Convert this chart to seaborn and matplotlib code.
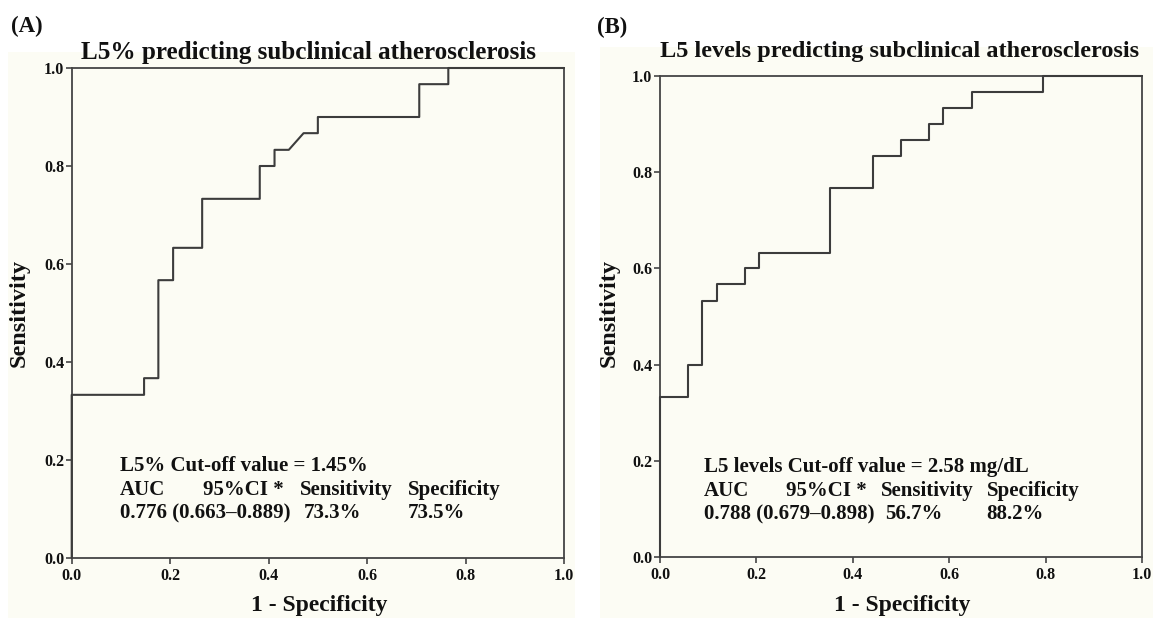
import matplotlib
matplotlib.use("Agg")
import matplotlib.pyplot as plt
import seaborn as sns
import pandas as pd
from matplotlib.patches import Rectangle

# ---------------- data ----------------
# Panel A: L5% ROC coordinates (1 - specificity, sensitivity)
fpr_a = [0.0, 0.0, 0.147, 0.147, 0.176, 0.176, 0.206, 0.206, 0.265, 0.265,
         0.382, 0.382, 0.412, 0.412, 0.441, 0.471, 0.500, 0.500, 0.706, 0.706,
         0.765, 0.765, 1.0]
tpr_a = [0.0, 0.333, 0.333, 0.367, 0.367, 0.567, 0.567, 0.633, 0.633, 0.733,
         0.733, 0.800, 0.800, 0.833, 0.833, 0.867, 0.867, 0.900, 0.900, 0.967,
         0.967, 1.0, 1.0]

# Panel B: L5 levels ROC coordinates
fpr_b = [0.0, 0.0, 0.059, 0.059, 0.088, 0.088, 0.118, 0.118, 0.176, 0.176,
         0.206, 0.206, 0.353, 0.353, 0.441, 0.441, 0.500, 0.500, 0.559, 0.559,
         0.588, 0.588, 0.647, 0.647, 0.794, 0.794, 1.0]
tpr_b = [0.0, 0.333, 0.333, 0.400, 0.400, 0.533, 0.533, 0.567, 0.567, 0.600,
         0.600, 0.633, 0.633, 0.767, 0.767, 0.833, 0.833, 0.867, 0.867, 0.900,
         0.900, 0.933, 0.933, 0.967, 0.967, 1.0, 1.0]

tick_values = [0.0, 0.2, 0.4, 0.6, 0.8, 1.0]
tick_labels = ["0.0", "0.2", "0.4", "0.6", "0.8", "1.0"]

titles = ["L5% predicting subclinical atherosclerosis",
          "L5 levels predicting subclinical atherosclerosis"]
panel_tags = ["(A)", "(B)"]
cutoff_lines = ["L5% Cut-off value = 1.45%",
                "L5 levels Cut-off value = 2.58 mg/dL"]
header_cols = ["AUC", "95%CI *", "Sensitivity", "Specificity"]
auc_text = ["0.776 (0.663\u20130.889)", "0.788 (0.679\u20130.898)"]
sens_text = ["73.3%", "56.7%"]
spec_text = ["73.5%", "88.2%"]

# ---------------- style ----------------
sns.set_theme(style="white")
plt.rcParams["font.family"] = ["Liberation Serif", "DejaVu Serif"]
plt.rcParams["font.weight"] = "bold"

W, H = 1153, 618
CREAM = "#FCFCF4"
LINE = "#3c3c3c"
SPINE = "#454545"
TXT = "#111111"

fig = plt.figure(figsize=(W / 100, H / 100), dpi=100)
fig.patch.set_facecolor("white")


def fx(px):
    return px / W


def fy(py):
    return 1 - py / H


# cream backgrounds of the two panel images
for (x0, y0, x1) in [(8, 52, 575), (600, 47, 1153)]:
    fig.patches.append(Rectangle((fx(x0), 0), fx(x1) - fx(x0), fy(y0),
                                 transform=fig.transFigure, facecolor=CREAM,
                                 edgecolor="none", zorder=-10))

# axes boxes (pixel extents)
boxes = [(71.7, 68, 564, 558), (660, 76, 1142, 557)]
curves = [(fpr_a, tpr_a), (fpr_b, tpr_b)]

# text layout (pixels)
title_pos = [(308.5, 52, "center", 18.1), (660, 52, "left", 17.5)]
tag_pos = [(11, 26), (597.5, 27)]
xlabel_pos = [319, 902]
ylabel_pos = [19, 609]
ann_x = [
    dict(c0=120, c1=202.6, c2=300, c3=408, v2=304, v3=408),
    dict(c0=704, c1=785.7, c2=881.4, c3=987.4, v2=885, v3=986.6),
]
ann_y = [(466, 490, 513), (467, 491, 514)]

for i in range(2):
    x0, y0, x1, y1 = boxes[i]
    ax = fig.add_axes([fx(x0), fy(y1), fx(x1) - fx(x0), fy(y0) - fy(y1)])
    ax.set_facecolor(CREAM)
    df = pd.DataFrame({"fpr": curves[i][0], "tpr": curves[i][1]})
    sns.lineplot(data=df, x="fpr", y="tpr", ax=ax, sort=False, estimator=None,
                 color=LINE, linewidth=1.5, clip_on=False, zorder=3)
    ax.set_xlim(0, 1)
    ax.set_ylim(0, 1)
    ax.set_xticks(tick_values)
    ax.set_yticks(tick_values)
    ax.set_xticklabels(tick_labels)
    ax.set_yticklabels(tick_labels)
    ax.set_xlabel("")
    ax.set_ylabel("")
    ax.tick_params(axis="both", which="major", bottom=True, left=True,
                   direction="out", length=4.5, width=1.2, color=SPINE,
                   labelsize=11.5, labelcolor=TXT)
    ax.tick_params(axis="x", pad=3)
    ax.tick_params(axis="y", pad=1)
    for lab in ax.get_xticklabels() + ax.get_yticklabels():
        lab.set_fontweight("bold")
    for sp in ax.spines.values():
        sp.set_visible(True)
        sp.set_color(SPINE)
        sp.set_linewidth(1.3)
    ax.grid(False)

    # titles, tags, axis labels
    tx, ty, ha, tfs = title_pos[i]
    fig.text(fx(tx), fy(ty), titles[i], ha=ha, va="center", fontsize=tfs,
             fontweight="bold", color=TXT)
    fig.text(fx(tag_pos[i][0]), fy(tag_pos[i][1]), panel_tags[i], ha="left",
             va="center", fontsize=16.5, fontweight="bold", color=TXT)
    fig.text(fx(xlabel_pos[i]), fy(605), "1 - Specificity", ha="center",
             va="center", fontsize=17, fontweight="bold", color=TXT)
    fig.text(fx(ylabel_pos[i]), fy(313), "Sensitivity", ha="center",
             va="center", rotation=90, fontsize=17.5, fontweight="bold",
             color=TXT)

    # annotation block
    a = ann_x[i]
    r1, r2, r3 = ann_y[i]
    fs = 15
    fig.text(fx(a["c0"]), fy(r1), cutoff_lines[i], ha="left", va="center",
             fontsize=fs, fontweight="bold", color=TXT)
    for col, key in zip(header_cols, ["c0", "c1", "c2", "c3"]):
        fig.text(fx(a[key]), fy(r2), col, ha="left", va="center",
                 fontsize=fs, fontweight="bold", color=TXT)
    fig.text(fx(a["c0"]), fy(r3), auc_text[i], ha="left", va="center",
             fontsize=fs, fontweight="bold", color=TXT)
    fig.text(fx(a["v2"]), fy(r3), sens_text[i], ha="left", va="center",
             fontsize=fs, fontweight="bold", color=TXT)
    fig.text(fx(a["v3"]), fy(r3), spec_text[i], ha="left", va="center",
             fontsize=fs, fontweight="bold", color=TXT)

fig.savefig("out.png", dpi=100, facecolor="white")
